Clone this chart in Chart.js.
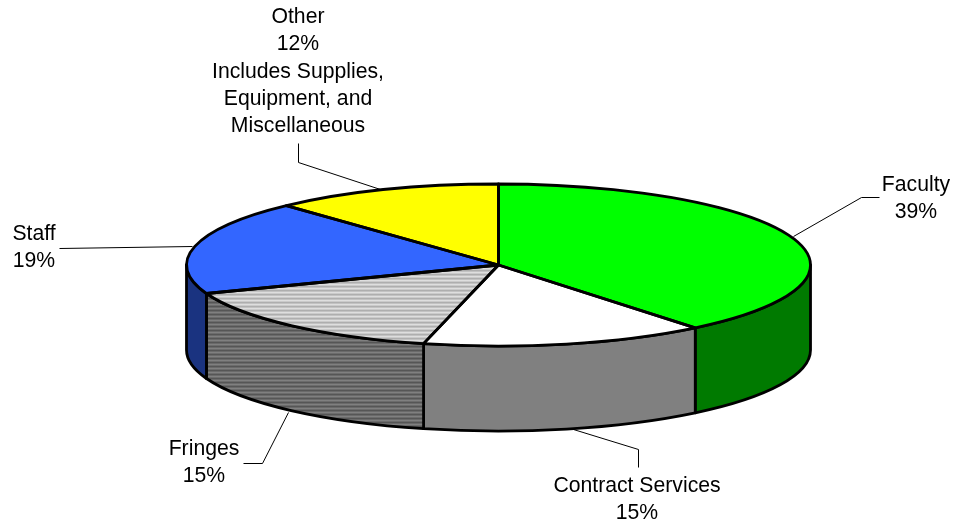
<!DOCTYPE html>
<html>
<head>
<meta charset="utf-8">
<style>html,body{margin:0;padding:0;background:#fff}canvas{display:block}</style>
<script src="https://cdn.jsdelivr.net/npm/chart.js@4"></script>
</head>
<body>
<canvas id="c" width="953" height="525"></canvas>
<script>
const categories = ["Faculty", "Contract Services", "Fringes", "Staff", "Other"];
const shares = [39.14, 14.72, 15.42, 18.82, 11.9];
const shareLabels = ["39%", "15%", "15%", "19%", "12%"];
const notes = [[], [], [], [], ["Includes Supplies,", "Equipment, and", "Miscellaneous"]];

// Layout and styling (not data)
const disc = { cx: 498.5, cy: 265, rx: 312, ry: 81, depth: 85 };
const labelPos = [[916, 185], [637, 486], [204, 449], [34, 234], [298, 17]];
const lineStep = 27.4;
const leaders = [
  [[793, 236], [861, 197], [879, 197]],
  [[573, 429], [638, 449], [638, 467]],
  [[288, 412], [262, 463], [243, 463]],
  [[192, 246], [59, 248]],
  [[380, 189], [298, 162], [298, 143]]
];

function stripes(rows) {
  const t = document.createElement('canvas');
  t.width = 4; t.height = rows.length;
  const g = t.getContext('2d');
  rows.forEach((c, i) => { g.fillStyle = c; g.fillRect(0, i, 4, 1); });
  return t;
}
const ctx0 = document.getElementById('c').getContext('2d');
const topHatch = ctx0.createPattern(stripes(['#dedede', '#cacaca', '#aeaeae', '#c2c2c2']), 'repeat');
const sideHatch = ctx0.createPattern(stripes(['#808080', '#6c6c6c', '#565656', '#6a6a6a']), 'repeat');
const topColors = ['#00ff00', '#ffffff', topHatch, '#3366ff', '#ffff00'];
const sideColors = ['#007a00', '#808080', sideHatch, '#1a3380', '#808000'];

const pie3d = {
  id: 'pie3d',
  beforeDatasetsDraw(chart) {
    const ctx = chart.ctx, arcs = chart.getDatasetMeta(0).data;
    const { cx, cy, rx, ry, depth } = disc;
    ctx.save();
    ctx.lineWidth = 2.8;
    ctx.strokeStyle = '#000';
    ctx.lineJoin = 'round';
    arcs.forEach((a, i) => {
      const s = Math.max(a.startAngle, 0), e = Math.min(a.endAngle, Math.PI);
      if (s >= e) return;
      ctx.beginPath();
      ctx.ellipse(cx, cy, rx, ry, 0, s, e);
      ctx.ellipse(cx, cy + depth, rx, ry, 0, e, s, true);
      ctx.closePath();
      ctx.fillStyle = sideColors[i];
      ctx.fill();
      ctx.stroke();
    });
    ctx.restore();
    const a0 = arcs[0];
    const sx = rx / a0.outerRadius, sy = ry / a0.outerRadius;
    const m = new DOMMatrix().translate(cx, cy).scale(sx, sy).translate(-a0.x, -a0.y);
    topHatch.setTransform(m.inverse());
    ctx.save();
    ctx.setTransform(m);
  },
  afterDatasetsDraw(chart) {
    const ctx = chart.ctx, arcs = chart.getDatasetMeta(0).data;
    ctx.restore();
    const { cx, cy, rx, ry } = disc;
    ctx.save();
    ctx.lineWidth = 2.8;
    ctx.strokeStyle = '#000';
    ctx.lineJoin = 'round';
    arcs.forEach(a => {
      ctx.beginPath();
      ctx.moveTo(cx, cy);
      ctx.ellipse(cx, cy, rx, ry, 0, a.startAngle, a.endAngle);
      ctx.closePath();
      ctx.stroke();
    });
    ctx.restore();
  },
  afterDraw(chart) {
    const ctx = chart.ctx;
    ctx.save();
    ctx.strokeStyle = '#000';
    ctx.lineWidth = 1;
    leaders.forEach(pts => {
      ctx.beginPath();
      pts.forEach((p, j) => j ? ctx.lineTo(p[0] + .5, p[1] + .5) : ctx.moveTo(p[0] + .5, p[1] + .5));
      ctx.stroke();
    });
    ctx.fillStyle = '#000';
    ctx.font = '21.2px "Liberation Sans", Arial, sans-serif';
    ctx.textAlign = 'center';
    ctx.textBaseline = 'middle';
    categories.forEach((name, i) => {
      const lines = [name, shareLabels[i], ...notes[i]];
      lines.forEach((t, j) => ctx.fillText(t, labelPos[i][0], labelPos[i][1] + j * lineStep));
    });
    ctx.restore();
  }
};

new Chart(document.getElementById('c'), {
  type: 'pie',
  data: {
    labels: categories,
    datasets: [{ data: shares, backgroundColor: topColors, borderWidth: 0 }]
  },
  options: {
    responsive: false,
    animation: false,
    plugins: { legend: { display: false }, tooltip: { enabled: false } },
    layout: { padding: 0 }
  },
  plugins: [pie3d]
});
</script>
</body>
</html>
